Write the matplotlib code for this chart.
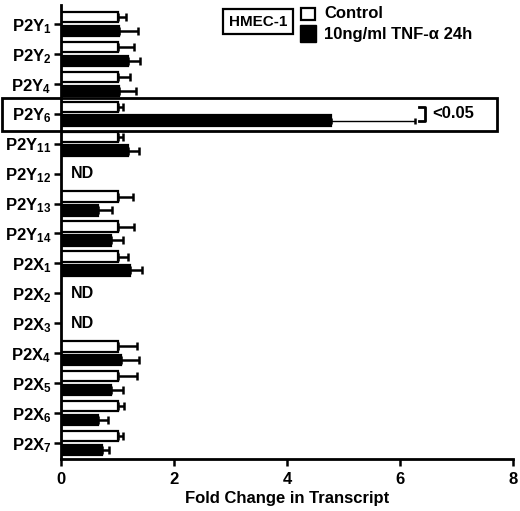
import numpy as np
import matplotlib
matplotlib.use("Agg")
import matplotlib.pyplot as plt
from matplotlib.patches import Rectangle

plt.rcParams['font.family'] = ['Liberation Sans', 'DejaVu Sans']
plt.rcParams['font.weight'] = 'bold'
plt.rcParams['mathtext.fontset'] = 'custom'
plt.rcParams['mathtext.rm'] = 'Liberation Sans:bold'
plt.rcParams['mathtext.bf'] = 'Liberation Sans:bold'
plt.rcParams['mathtext.default'] = 'bf'

# receptor names and fold change values (nan = not detected)
receptors = ['P2Y$_{1}$', 'P2Y$_{2}$', 'P2Y$_{4}$', 'P2Y$_{6}$', 'P2Y$_{11}$', 'P2Y$_{12}$',
             'P2Y$_{13}$', 'P2Y$_{14}$', 'P2X$_{1}$', 'P2X$_{2}$', 'P2X$_{3}$', 'P2X$_{4}$',
             'P2X$_{5}$', 'P2X$_{6}$', 'P2X$_{7}$']
nan = np.nan
control = [1.0, 1.0, 1.0, 1.0, 1.0, nan, 1.0, 1.0, 1.0, nan, nan, 1.0, 1.0, 1.0, 1.0]
control_err = [0.15, 0.30, 0.22, 0.10, 0.10, nan, 0.27, 0.29, 0.19, nan, nan, 0.34, 0.34, 0.11, 0.09]
tnf = [1.03, 1.19, 1.03, 4.78, 1.18, nan, 0.65, 0.88, 1.22, nan, nan, 1.06, 0.88, 0.65, 0.73]
tnf_err = [0.34, 0.21, 0.30, 1.49, 0.20, nan, 0.26, 0.21, 0.21, nan, nan, 0.32, 0.22, 0.19, 0.12]
nd_idx = [5, 9, 10]
sig_idx = 3
sig_text = '<0.05'

W, H = 520, 511
fig = plt.figure(figsize=(W / 100, H / 100), dpi=100)
ax = fig.add_axes([61 / W, 1 - 459 / H, (513 - 61) / W, (459 - 5) / H])

y = np.arange(len(receptors))
bh = 0.35
off = 0.23
c = np.array(control)
t = np.array(tnf)

ax.barh(y - off, c, height=bh, color='white', edgecolor='black', linewidth=1.6, zorder=2)
ax.barh(y + off, t, height=bh, color='black', edgecolor='black', linewidth=1.6, zorder=2)

zeros = np.zeros(len(y))
ax.errorbar(c, y - off, xerr=[zeros, control_err], fmt='none', ecolor='black',
            elinewidth=1.8, capsize=3.2, capthick=1.8, zorder=1)
mask = np.arange(len(y)) != sig_idx
ax.errorbar(t[mask], (y + off)[mask], xerr=[zeros[mask], np.array(tnf_err)[mask]],
            fmt='none', ecolor='black', elinewidth=1.8, capsize=3.2, capthick=1.8, zorder=1)
ax.errorbar([t[sig_idx]], [sig_idx + off], xerr=[[0], [tnf_err[sig_idx]]], fmt='none',
            ecolor='black', elinewidth=1.0, capsize=2.5, capthick=1.8, zorder=1)

for i in nd_idx:
    ax.text(0.17, i, 'ND', ha='left', va='center', fontsize=11.5, fontweight='bold')

# significance bracket
ax.plot([6.34, 6.44, 6.44, 6.34], [sig_idx - off, sig_idx - off, sig_idx + off, sig_idx + off],
        color='black', linewidth=2, clip_on=False)
ax.text(6.57, sig_idx, sig_text, ha='left', va='center', fontsize=12, fontweight='bold')

ax.set_xlim(0, 8)
ax.set_ylim(len(y) - 1 + 0.535, -0.635)
ax.set_xticks([0, 2, 4, 6, 8])
ax.set_yticks(y)
ax.set_yticklabels(receptors)
ax.tick_params(axis='both', width=1.8, length=5, labelsize=12, pad=2)
ax.tick_params(axis='x', pad=4)
for s in ['top', 'right']:
    ax.spines[s].set_visible(False)
for s in ['left', 'bottom']:
    ax.spines[s].set_linewidth(2)
ax.set_xlabel('Fold Change in Transcript', fontsize=12, fontweight='bold', labelpad=3)

# highlight box around P2Y6
fig.add_artist(Rectangle((2 / W, 1 - 131 / H), (497 - 2) / W, (131 - 98) / H,
                         transform=fig.transFigure, fill=False, edgecolor='black',
                         linewidth=2, zorder=5))

# legend
fig.text(258 / W, 1 - 21.5 / H, 'HMEC-1', ha='center', va='center', fontsize=11,
         fontweight='bold',
         bbox=dict(boxstyle='square,pad=0.35', facecolor='white', edgecolor='black', linewidth=1.6))
fig.add_artist(Rectangle((301 / W, 1 - 20 / H), 14 / W, 12 / H, transform=fig.transFigure,
                         facecolor='white', edgecolor='black', linewidth=1.6))
fig.add_artist(Rectangle((300 / W, 1 - 42 / H), 16 / W, 17 / H, transform=fig.transFigure,
                         facecolor='black', edgecolor='black', linewidth=1))
fig.text(324 / W, 1 - 14 / H, 'Control', ha='left', va='center', fontsize=12, fontweight='bold')
fig.text(324 / W, 1 - 34 / H, '10ng/ml TNF-\u03b1 24h', ha='left', va='center', fontsize=12,
         fontweight='bold')

fig.savefig('out.png', dpi=100)
